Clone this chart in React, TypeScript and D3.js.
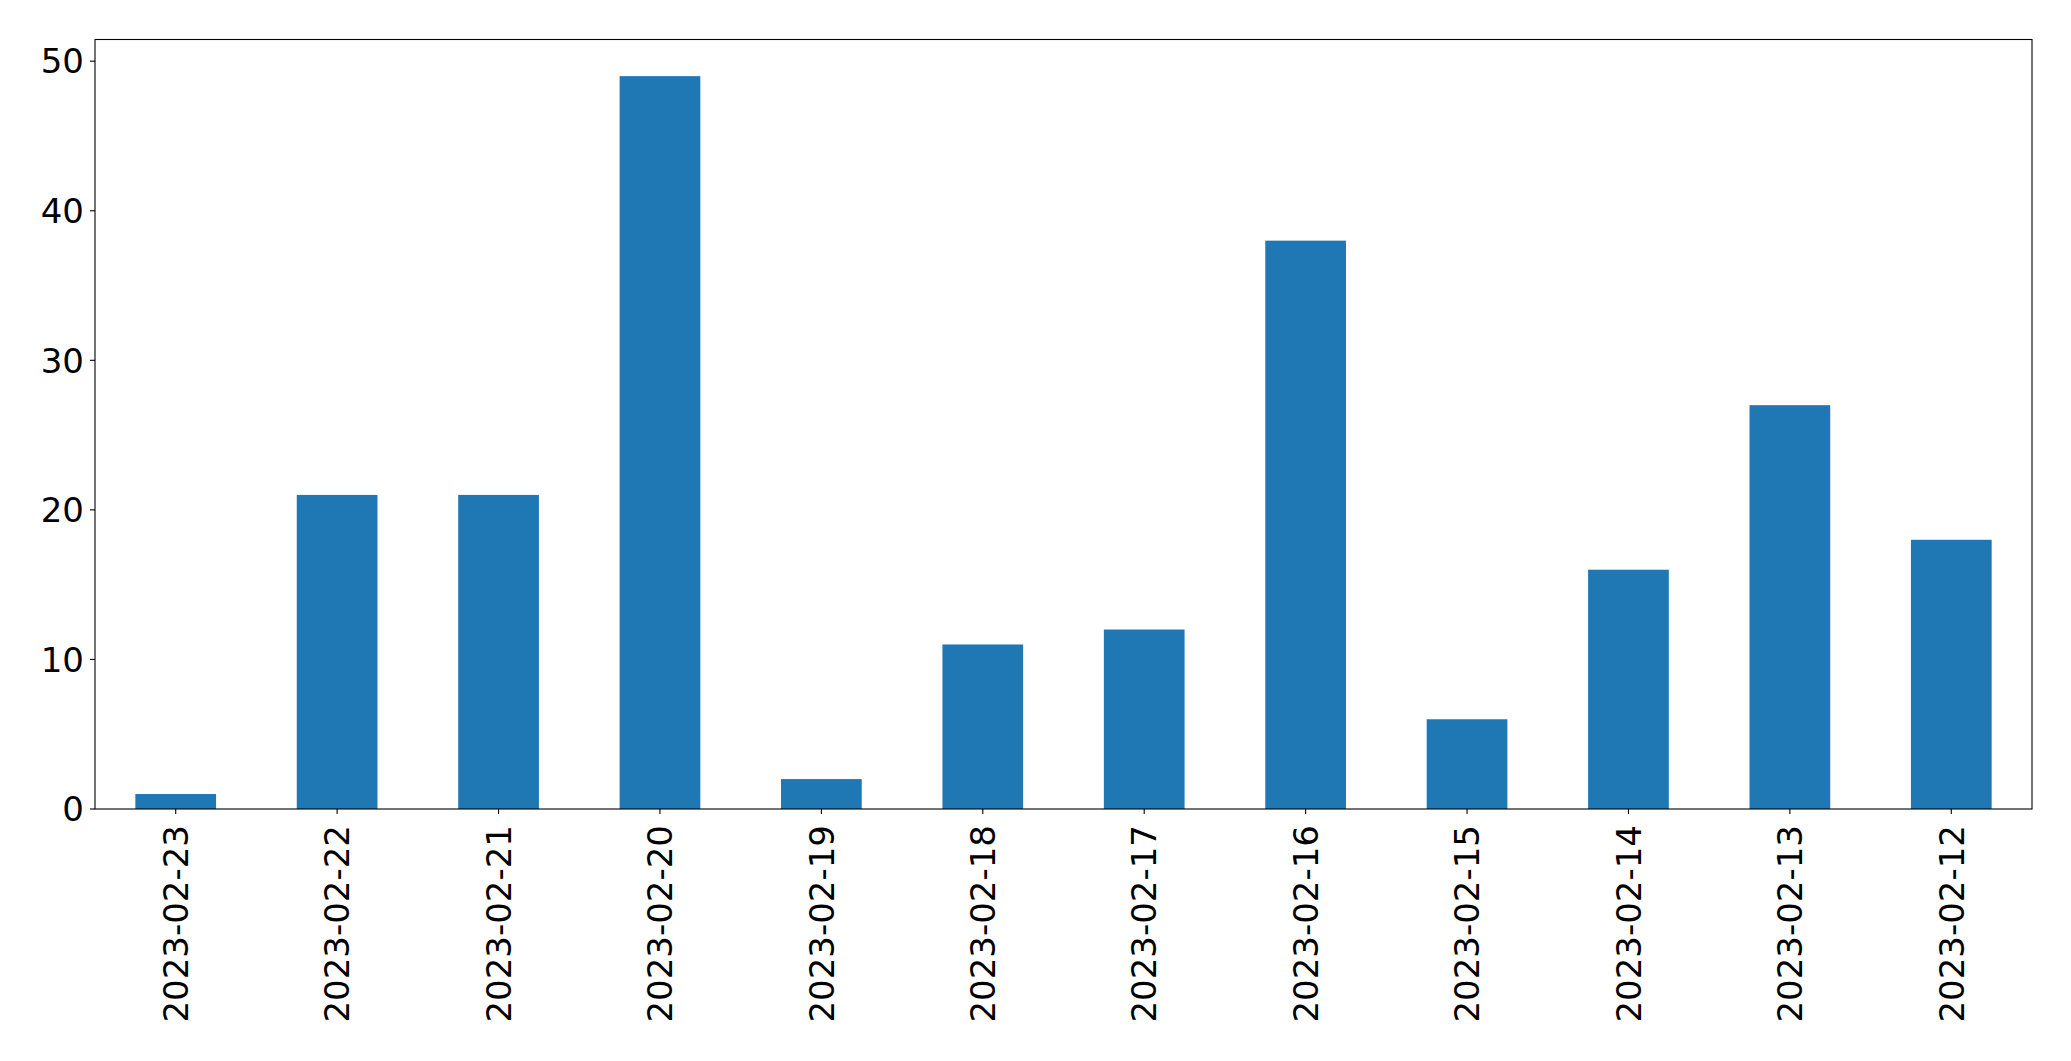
import React from "react";
import * as d3 from "d3";

const categories = [
  "2023-02-23", "2023-02-22", "2023-02-21", "2023-02-20", "2023-02-19", "2023-02-18",
  "2023-02-17", "2023-02-16", "2023-02-15", "2023-02-14", "2023-02-13", "2023-02-12",
];
const values = [1, 21, 21, 49, 2, 11, 12, 38, 6, 16, 27, 18];
const yTicks = [0, 10, 20, 30, 40, 50];

const W = 2071;
const H = 1061;
const left = 95;
const right = 2032;
const top = 39.5;
const bottom = 809;
const fontSize = 34;
const font = "'DejaVu Sans', sans-serif";

export default function App() {
  const x = d3
    .scaleBand<string>()
    .domain(categories)
    .range([left, right])
    .paddingInner(0.5)
    .paddingOuter(0.25);
  const yMax = d3.max(values)! * 1.05;
  const y = d3.scaleLinear().domain([0, yMax]).range([bottom, top]);

  return (
    <svg
      width={W}
      height={H}
      style={{ position: "absolute", left: 0, top: 0, background: "#fff" }}
    >
      {categories.map((c, i) => (
        <rect
          key={c}
          x={x(c)!}
          y={y(values[i])}
          width={x.bandwidth()}
          height={y(0) - y(values[i])}
          fill="#1f77b4"
        />
      ))}
      <rect
        x={left}
        y={top}
        width={right - left}
        height={bottom - top}
        fill="none"
        stroke="#000"
        strokeWidth={1.1}
      />
      {yTicks.map((t) => (
        <g key={t}>
          <line x1={left - 5} x2={left} y1={y(t)} y2={y(t)} stroke="#000" strokeWidth={1.1} />
          <text
            x={left - 11}
            y={y(t)}
            dy="0.36em"
            textAnchor="end"
            fontFamily={font}
            fontSize={fontSize}
            fill="#000"
          >
            {t}
          </text>
        </g>
      ))}
      {categories.map((c) => {
        const cx = x(c)! + x.bandwidth() / 2;
        return (
          <g key={c}>
            <line x1={cx} x2={cx} y1={bottom} y2={bottom + 5} stroke="#000" strokeWidth={1.1} />
            <text
              transform={`translate(${cx},${bottom + 16}) rotate(-90)`}
              dy="0.36em"
              textAnchor="end"
              fontFamily={font}
              fontSize={fontSize}
              fill="#000"
            >
              {c}
            </text>
          </g>
        );
      })}
    </svg>
  );
}
